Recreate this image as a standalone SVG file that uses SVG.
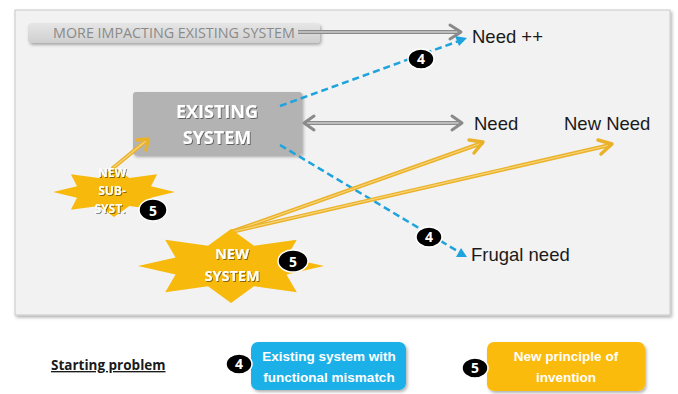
<svg xmlns="http://www.w3.org/2000/svg" width="678" height="394" viewBox="0 0 678 394">
<defs>
<style>
.t{font-family:"Liberation Sans","Open Sans",sans-serif}
.c{font-family:"Open Sans","Liberation Sans",sans-serif}
.lbl{font-size:18.5px;fill:#1a1a1a}
.wb{fill:#fff;font-weight:bold;text-anchor:middle}
.badge{fill:#000;stroke:#fff;stroke-width:1.5}
.bnum{fill:#fff;font-weight:bold;text-anchor:middle;font-size:14px}
.gOut{stroke:#8a8a8a;stroke-width:4;fill:none}
.gIn{stroke:#ededed;stroke-width:1.2;fill:none}
.gHead{stroke:#8a8a8a;stroke-width:3;fill:none;stroke-linecap:round;stroke-linejoin:round}
.yOut{stroke:#eab22a;stroke-width:4;fill:none;stroke-linecap:round}
.yIn{stroke:#f9d57a;stroke-width:1.2;fill:none}
.yHead{stroke:#eab22a;stroke-width:3.5;fill:none;stroke-linecap:round;stroke-linejoin:round}
.bl{stroke:#1ea3dc;stroke-width:2.5;stroke-dasharray:7 4;fill:none}
.star{fill:#f7b90c}
</style>
<filter id="sh" x="-10%" y="-10%" width="130%" height="140%">
<feDropShadow dx="1.5" dy="2" stdDeviation="1.5" flood-color="#000" flood-opacity="0.3"/>
</filter>
<filter id="ts" x="-10%" y="-20%" width="130%" height="150%">
<feDropShadow dx="1" dy="1" stdDeviation="0.6" flood-color="#000" flood-opacity="0.45"/>
</filter>
<linearGradient id="barG" x1="0" y1="0" x2="0" y2="1">
<stop offset="0" stop-color="#e6e6e6"/>
<stop offset="1" stop-color="#cfcfcf"/>
</linearGradient>
</defs>

<rect x="15" y="10" width="655" height="305" fill="#f2f2f2" stroke="#c8c8c8" stroke-width="1" filter="url(#sh)"/>

<g id="top-bar">
<rect x="28" y="23" width="292" height="20" rx="4" fill="url(#barG)" filter="url(#sh)"/>
<text class="c" x="174" y="38" font-size="14.3" fill="#8a8a8a" text-anchor="middle">MORE IMPACTING EXISTING SYSTEM</text>
</g>

<g id="existing-system">
<rect x="133" y="92" width="169" height="63" rx="3" fill="#b3b3b3" filter="url(#sh)"/>
<text class="c wb" x="217" y="118" font-size="18" filter="url(#ts)">EXISTING</text>
<text class="c wb" x="217" y="144" font-size="18" filter="url(#ts)">SYSTEM</text>
</g>

<g id="connectors">
<line class="gOut" x1="298" y1="32" x2="461" y2="32"/>
<line class="gIn" x1="298" y1="32" x2="460" y2="32"/>
<polyline class="gHead" points="450,25 461,32 450,39"/>
<line class="gOut" x1="305" y1="123" x2="461" y2="123"/>
<line class="gIn" x1="306" y1="123" x2="460" y2="123"/>
<polyline class="gHead" points="314,116 304,123 314,130"/>
<polyline class="gHead" points="452,116 462,123 452,130"/>
<line class="bl" x1="280" y1="106" x2="459" y2="41"/>
<polygon points="467,38 455,36 459,46" fill="#1ea3dc"/>
<line class="bl" x1="280" y1="145" x2="459" y2="252"/>
<polygon points="467,257 456,257 461,248" fill="#1ea3dc"/>
<line class="yOut" x1="231" y1="232" x2="482" y2="143"/>
<line class="yIn" x1="231" y1="232" x2="482" y2="143"/>
<polyline class="yHead" points="469,140 483,142 474,153"/>
<line class="yOut" x1="231" y1="232" x2="610" y2="145"/>
<line class="yIn" x1="231" y1="232" x2="610" y2="145"/>
<polyline class="yHead" points="598,140 612,144 601,154"/>
<line class="yOut" x1="113" y1="168" x2="147" y2="140"/>
<line class="yIn" x1="113" y1="168" x2="147" y2="140"/>
<polyline class="yHead" points="137,140 148,139 146,150"/>
</g>

<g id="need-pp"><text class="t lbl" x="472" y="43">Need ++</text></g>
<g id="need"><text class="t lbl" x="474" y="130">Need</text></g>
<g id="new-need"><text class="t lbl" x="564" y="130">New Need</text></g>
<g id="frugal-need"><text class="t lbl" x="471" y="261">Frugal need</text></g>

<g id="badge-4-top">
<ellipse class="badge" cx="421" cy="59" rx="13" ry="10"/>
<text class="c bnum" x="421" y="64">4</text>
</g>
<g id="badge-4-mid">
<ellipse class="badge" cx="429" cy="237" rx="13" ry="10"/>
<text class="c bnum" x="429" y="242">4</text>
</g>

<g id="new-sub-system">
<polygon class="star" points="175,192 151,186.3 157.1,174.3 129.3,178.1 114,167 98.7,178.1 70.9,174.3 77,186.3 53,192 77,197.7 70.9,209.7 98.7,205.9 114,217 129.3,205.9 157.1,209.7 151,197.7"/>
<text class="c wb" x="112" y="177" font-size="12" filter="url(#ts)">NEW</text>
<text class="c wb" x="112" y="195" font-size="12" filter="url(#ts)">SUB-</text>
<text class="c wb" x="110" y="213" font-size="12" filter="url(#ts)">SYST.</text>
<ellipse class="badge" cx="153" cy="210" rx="14" ry="11"/>
<text class="c bnum" x="153" y="216" font-size="16">5</text>
</g>

<g id="new-system">
<polygon class="star" points="324,266 286.4,257.6 296.8,239.8 254,245.7 231,229 208,245.7 165.2,239.8 175.6,257.6 138,266 175.6,274.4 165.2,292.2 208,286.3 231,303 254,286.3 296.8,292.2 286.4,274.4"/>
<text class="c wb" x="232" y="259" font-size="14.5" filter="url(#ts)">NEW</text>
<text class="c wb" x="232" y="281" font-size="14.5" filter="url(#ts)">SYSTEM</text>
<ellipse class="badge" cx="293" cy="261" rx="15" ry="11"/>
<text class="c bnum" x="293" y="267" font-size="17">5</text>
</g>

<g id="starting-problem">
<text class="c" x="51" y="370" font-size="13.5" font-weight="bold" fill="#1a1a1a" text-decoration="underline">Starting problem</text>
</g>

<g id="legend-4">
<rect x="251" y="342" width="155" height="48" rx="7" fill="#1ab0e8" filter="url(#sh)"/>
<text class="t wb" x="329" y="361" font-size="13.5">Existing system with</text>
<text class="t wb" x="329" y="382" font-size="13.5">functional mismatch</text>
<ellipse class="badge" cx="239" cy="364" rx="13" ry="10"/>
<text class="c bnum" x="239" y="369">4</text>
</g>

<g id="legend-5">
<rect x="487" y="342" width="158" height="49" rx="7" fill="#fbbb0e" filter="url(#sh)"/>
<text class="t wb" x="566" y="361" font-size="13.5">New principle  of</text>
<text class="t wb" x="566" y="382" font-size="13.5">invention</text>
<ellipse class="badge" cx="475" cy="368" rx="13" ry="10"/>
<text class="c bnum" x="475" y="373">5</text>
</g>
</svg>
